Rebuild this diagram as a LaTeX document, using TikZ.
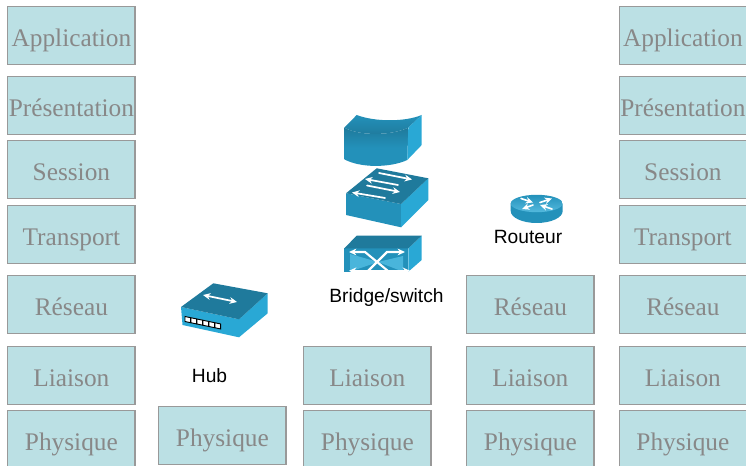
\documentclass[tikz,border=0pt]{standalone}
\usepackage{fontspec}
\usetikzlibrary{arrows.meta}
\setmainfont{Liberation Serif}
\newfontfamily\labelfont{Liberation Sans}
\begin{document}
\begin{tikzpicture}[x=0.75pt,y=-0.75pt,
  layerbox/.style={draw=boxedge,fill=boxfill,line width=1pt,minimum width=95.6pt,minimum height=43.2pt,inner sep=0pt,text=boxtext,font=\fontsize{19}{22}\selectfont,anchor=north west,text height=16pt,text depth=0pt},
  devlabel/.style={font=\labelfont\fontsize{14.4}{16}\selectfont,text=black,inner sep=0pt},
  icondark/.style={fill=icontop},
  iconmid/.style={fill=iconfront},
  iconlight/.style={fill=iconside},
  wline/.style={draw=white,line width=1.3pt,line cap=round,>={Stealth[length=5.5pt,width=5pt]}}]
\definecolor{boxfill}{HTML}{BBE0E4}
\definecolor{boxedge}{HTML}{999999}
\definecolor{boxtext}{HTML}{888888}
\definecolor{icontop}{HTML}{1F7A9C}
\definecolor{iconfront}{HTML}{2391BA}
\definecolor{iconside}{HTML}{29A8D5}
\useasboundingbox (0,0) rectangle (746,466);
\clip (0,0) rectangle (746,466);
% left column
\node[layerbox] (la) at (7,6) {Application};
\node[layerbox] (lb) at (7,76) {Présentation};
\node[layerbox] (lc) at (7,140) {Session};
\node[layerbox] (ld) at (7,205) {Transport};
\node[layerbox] (le) at (7,275) {Réseau};
\node[layerbox] (lf) at (7,346) {Liaison};
\node[layerbox] (lg) at (7,410) {Physique};
% hub
\node[layerbox] (hp) at (158,406) {Physique};
% bridge
\node[layerbox] (bl) at (303,346) {Liaison};
\node[layerbox] (bp) at (303,410) {Physique};
% router
\node[layerbox] (rr) at (466,275) {Réseau};
\node[layerbox] (rl) at (466,346) {Liaison};
\node[layerbox] (rp) at (466,410) {Physique};
% right column
\node[layerbox] (ra) at (618.5,6) {Application};
\node[layerbox] (rb) at (618.5,76) {Présentation};
\node[layerbox] (rc) at (618.5,140) {Session};
\node[layerbox] (rd) at (618.5,205) {Transport};
\node[layerbox] (re) at (618.5,275) {Réseau};
\node[layerbox] (rf) at (618.5,346) {Liaison};
\node[layerbox] (rg) at (618.5,410) {Physique};
% labels
\node[devlabel] (hub) at (209.5,376) {Hub};
\node[devlabel] (bsw) at (386.5,297.5) {Bridge/switch};
\node[devlabel] (rou) at (528,237) {Routeur};
% hub icon
\fill[iconside] (181,307) -- (239,319.3) -- (239,337.3) -- (182.5,325) -- cycle;
\fill[iconside] (239,319.3) -- (267.7,293.3) -- (267.7,313.3) -- (239,337.3) -- cycle;
\fill[icondark] (181,307) -- (213.3,283.3) -- (267.7,293.3) -- (239,319.3) -- cycle;
\foreach \i in {0,...,5} {
  \draw[fill=white,draw=black,line width=0.7pt] ({185+\i*6},{316.5+\i*1.25}) -- ++(5.6,1.2) -- ++(0,5) -- ++(-5.6,-1.2) -- cycle;
}
\draw[wline,<->] (203,295) -- (237,302);
% top cylinder of bridge stack
\shade[top color=iconfront,bottom color=icontop] (356.7,115) .. controls (375,122) and (405,122) .. (421.7,115) -- (408.3,127.7) .. controls (390,136) and (360,136) .. (344.3,127.7) -- cycle;
\shade[top color=icontop,bottom color=iconfront,middle color=iconfront] (344.3,127.7) .. controls (360,136) and (390,136) .. (408.3,127.7) -- (407.3,160) .. controls (390,168) and (360,168) .. (344.3,159.3) -- cycle;
\fill[iconlight] (408.3,127.7) -- (421.7,115) -- (421.7,145) -- (407.3,160) -- cycle;
% middle switch
\fill[iconmid] (346,193.3) -- (401,204) -- (401,227.3) -- (346,215) -- cycle;
\fill[iconlight] (401,204) -- (428.3,178.3) -- (428.3,200) -- (401,227.3) -- cycle;
\fill[icondark] (346,193.3) -- (376.7,168.3) -- (428.3,178.3) -- (401,204) -- cycle;
\draw[wline,->] (379,173) -- (412,179.5);
\draw[wline,->] (398,185) -- (365,179);
\draw[wline,->] (367,185.5) -- (400,192);
\draw[wline,->] (385,198) -- (352,192.5);
% lower switch
\fill[iconmid] (344.3,248.3) -- (408.3,248.3) -- (408.3,271.7) -- (344.3,271.7) -- cycle;
\fill[iconside!85!white] (350,254) -- (378,262) -- (350,271.7) -- cycle;
\fill[iconside!85!white] (403,256) -- (378,262) -- (403,271.7) -- cycle;
\fill[iconlight] (408.3,248.3) -- (421.7,235.7) -- (421.7,260) -- (408.3,271.7) -- cycle;
\fill[icondark] (356.7,235.7) -- (421.7,235.7) -- (408.3,248.3) -- (344.3,248.3) -- cycle;
\draw[wline,line width=1.6pt,<-] (349,252) -- (365,252) -- (388,271);
\draw[wline,line width=1.6pt,->] (368,271) -- (387,252) -- (405,252);
\draw[wline,line width=1.6pt,<->] (349,270.8) -- (410,270.8);
% router
\fill[iconfront] (510.7,203.5) -- (510.7,211) arc[start angle=180,end angle=360,x radius=26,y radius=-12] -- (562.7,203.5) -- cycle;
\shade[top color=iconfront,bottom color=iconside!80!white] (536.7,203.5) ellipse [x radius=26,y radius=8.7];
\draw[wline,line width=1.2pt,->] (521,198.5) -- (533,202.5);
\draw[wline,line width=1.2pt,->] (533,205) -- (522,209);
\draw[wline,line width=1.2pt,->] (540,202.5) -- (552,198.5);
\draw[wline,line width=1.2pt,->] (552,209) -- (540,205);
\end{tikzpicture}
\end{document}
